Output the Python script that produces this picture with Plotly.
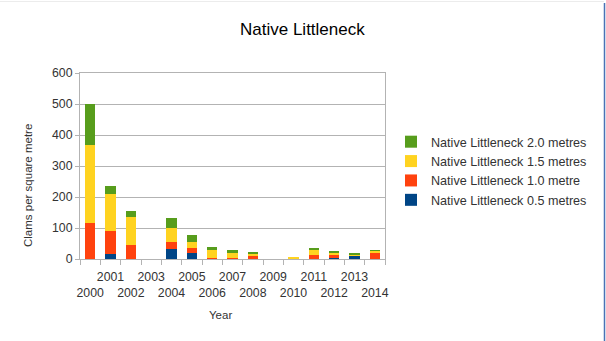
import plotly.graph_objects as go

years = [str(y) for y in range(2000, 2015)]
tick_labels = [y if int(y) % 2 == 1 else "<br>" + y for y in years]

lk_05 = [0, 15, 0, 0, 32, 19, 0, 1, 0, 0, 0, 0, 2, 10, 0]
lk_10 = [115, 74, 44, 0, 22, 18, 4, 2, 11, 0, 3, 14, 10, 1, 19]
lk_15 = [253, 122, 91, 0, 45, 17, 26, 16, 6, 0, 4, 15, 9, 3, 7]
lk_20 = [132, 26, 21, 0, 34, 24, 9, 10, 4, 0, 0, 7, 4, 4, 3]

series = [
    ("Native Littleneck 0.5 metres", lk_05, "#004586"),
    ("Native Littleneck 1.0 metre", lk_10, "#ff420e"),
    ("Native Littleneck 1.5 metres", lk_15, "#ffd320"),
    ("Native Littleneck 2.0 metres", lk_20, "#579d1c"),
]

FONT = "Liberation Sans, Arial, sans-serif"

fig = go.Figure()
for name, vals, col in series:
    fig.add_trace(go.Bar(x=years, y=vals, name=name, marker=dict(color=col, line=dict(width=0))))

W, H = 606, 341
L, R, T, B = 80, 385, 73, 259
pw, ph = R - L, B - T

def px_x(x):
    return (x - L) / pw

def px_y(y):
    return (B - y) / ph

fig.update_layout(
    width=W, height=H,
    margin=dict(l=L, r=W - R, t=T, b=H - B, pad=0),
    paper_bgcolor="white", plot_bgcolor="white",
    barmode="stack", bargap=0.5,
    font=dict(family=FONT, size=12, color="#333333"),
    showlegend=True,
    legend=dict(
        traceorder="reversed",
        x=px_x(391), xanchor="left",
        y=px_y(171), yanchor="middle",
        font=dict(family=FONT, size=12.6, color="#333333"),
        bgcolor="rgba(0,0,0,0)", borderwidth=0,
    ),
    xaxis=dict(
        type="category", categoryorder="array", categoryarray=years,
        tickmode="array", tickvals=years, ticktext=tick_labels,
        tickangle=0, ticklabelstandoff=6,
        tickson="boundaries", ticks="outside", ticklen=5, tickcolor="#b3b3b3",
        showline=True, linecolor="#b3b3b3", linewidth=1, mirror=True,
        showgrid=False, range=[-0.5, 14.5],
        tickfont=dict(family=FONT, size=12.3, color="#333333"),
    ),
    yaxis=dict(
        range=[0, 600], dtick=100, tick0=0,
        ticks="outside", ticklen=4, tickcolor="#b3b3b3",
        showline=True, linecolor="#b3b3b3", linewidth=1, mirror=True,
        showgrid=True, gridcolor="#b3b3b3", gridwidth=1, zeroline=False,
        tickfont=dict(family=FONT, size=12.3, color="#333333"),
    ),
    annotations=[
        dict(text="Native Littleneck", xref="paper", yref="paper",
             x=px_x(302), y=px_y(29), xanchor="center", yanchor="middle",
             showarrow=False, font=dict(family=FONT, size=17, color="#000000")),
        dict(text="Clams per square metre", xref="paper", yref="paper",
             x=px_x(28), y=px_y(186), xanchor="center", yanchor="middle",
             textangle=-90, showarrow=False,
             font=dict(family=FONT, size=11.5, color="#333333")),
        dict(text="Year", xref="paper", yref="paper",
             x=px_x(220), y=px_y(315), xanchor="center", yanchor="middle",
             showarrow=False, font=dict(family=FONT, size=11.5, color="#333333")),
    ],
    shapes=[
        dict(type="line", xref="paper", yref="paper",
             x0=px_x(604.5), x1=px_x(604.5), y0=px_y(3), y1=px_y(341),
             line=dict(color="#4a72b5", width=1.5)),
        dict(type="line", xref="paper", yref="paper",
             x0=px_x(0), x1=px_x(604), y0=px_y(1.5), y1=px_y(1.5),
             line=dict(color="#ececec", width=1)),
    ],
)

fig.write_html("out.html")
